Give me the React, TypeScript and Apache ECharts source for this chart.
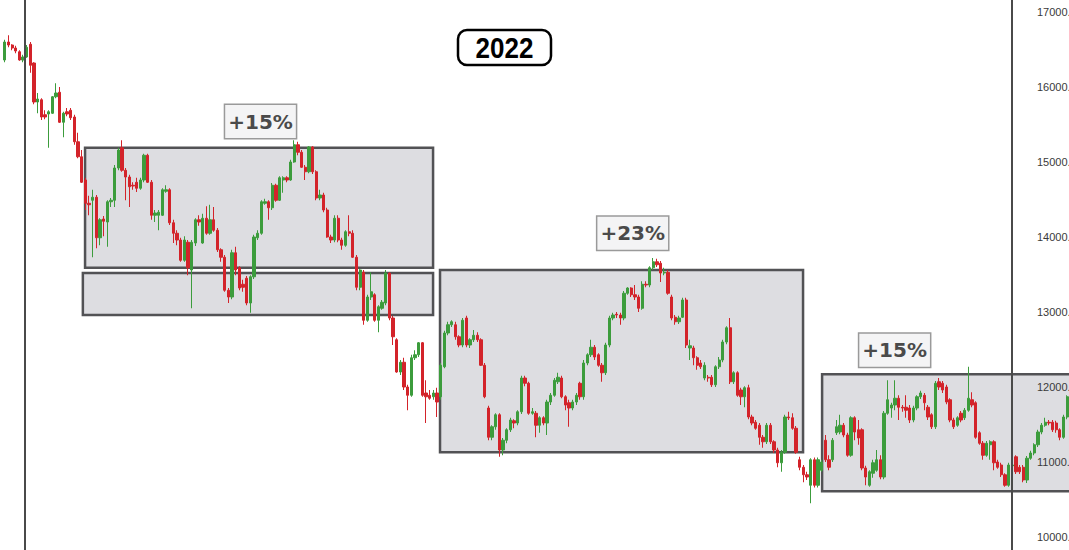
import React, { useEffect, useRef } from 'react';
import * as echarts from 'echarts';

// OHLC rows: [open, close, low, high]
const lateDecToJan = [
  [16360,16600,16330,16630],[16600,16560,16530,16690],[16560,16520,16490,16570],[16520,16480,16450,16550],
  [16470,16360,16350,16490],[16360,16400,16330,16430],[16400,16530,16390,16560],[16570,16290,16190,16600],
  [16320,15800,15770,16330],[15800,15840,15650,15920],[15830,15600,15560,15850],[15630,15600,15570,15690],
  [15640,15670,15190,15690],[15650,15870,15640,15880],[15870,15920,15850,16050],[15930,15530,15520,16000],
  [15530,15650,15330,15670],[15670,15640,15610,15720],[15690,15590,15560,15720],[15600,15270,15230,15630],
  [15270,15070,15050,15390],[15070,14730,14720,15160],[14760,14450,14360,14790],[14450,14430,14290,14550],
  [14490,14530,13730,14630],[14530,13990,13850,14560],[13990,14230,13890,14250],[14240,14210,14010,14280],
  [14200,14470,13870,14490],[14470,14490,14400,14520],[14490,14920,14400,14960],[14920,15160,14890,15190],
  [15190,14890,14870,15290],[14890,14800,14490,14920],[14800,14670,14400,14830],[14690,14680,14630,14730],
  [14730,14650,14600,14790],[14650,14760,14630,14790],[14760,15090,14730,15110],[15090,14730,14720,15110],
  [14730,14290,14230,14760],[14290,14320,14200,14360],[14290,14330,14090,14360],[14290,14630,14280,14650],
  [14610,14630,14590,14690],[14630,14190,14160,14650],[14190,14050,13920,14230],[14050,13960,13890,14090],
  [13960,13690,13670,13990],[13690,13960,13670,14010],
];
const springSwing = [
  [13930,13590,13490,13960],[13560,13930,13050,13960],[13920,14230,13880,14250],[14230,14200,14150,14290],
  [13920,14250,13910,14310],[14250,14050,14030,14410],[14050,14230,14030,14430],[14230,14090,14070,14400],
  [14090,13830,13800,14120],[13830,13730,13670,13850],[13730,13290,13270,13760],[13290,13200,13120,13320],
  [13200,13790,13170,13830],[13790,13560,13490,13870],[13590,13320,13290,13610],[13370,13330,13270,13430],
  [13450,13120,13090,13480],[13120,13470,12990,13490],[13470,14000,13440,14030],[13990,14050,13960,14090],
  [14050,14470,14030,14490],[14450,14470,14430,14510],[14470,14390,14230,14490],[14390,14690,14360,14720],
  [14690,14490,14470,14710],[14490,14790,14480,14810],[14760,14790,14590,14810],[14790,14760,14730,14810],
  [14760,15000,14750,15030],[15000,15230,14990,15290],[15230,15130,15090,15270],[15130,14930,14920,15160],
  [14930,14870,14760,14960],[14870,15200,14850,15210],[15200,14870,14840,15210],[14870,14520,14490,14890],
  [14520,14560,14490,14630],[14560,14360,14330,14590],[14360,14000,13990,14390],[14000,13960,13920,14030],
  [13960,14250,13930,14290],[14250,13960,13930,14290],[13960,13890,13830,13990],[13890,14070,13870,14090],
  [14070,14050,14010,14290],[14050,13730,13720,14090],[13730,13330,13290,13760],[13330,13560,13290,13570],
  [13530,12890,12830,13560],[12890,13200,12870,13230],
];
const mayJuneSlide = [
  [13200,13270,13160,13530],[13230,12890,12870,13250],[12890,13070,12730,13090],[13050,13130,13030,13160],
  [13120,13520,13090,13560],[13520,12920,12890,13530],[12920,12670,12560,12950],[12630,12200,12190,12650],
  [12200,12330,12160,12360],[12330,12000,11960,12390],[12000,11890,11690,12030],[11890,12390,11870,12430],
  [12390,12430,12360,12490],[12430,12590,12400,12600],[12590,11890,11870,12600],[11920,11870,11520,12090],
  [11890,11850,11830,11960],[11870,11920,11830,11960],[11920,11800,11600,11990],[11870,12290,11830,12320],
  [12270,12720,12250,12750],[12720,12830,12690,12870],[12830,12870,12800,12890],[12830,12670,12630,12870],
  [12670,12560,12530,12690],[12560,12890,12530,12920],[12920,12560,12530,12950],[12560,12630,12520,12650],
  [12630,12690,12600,12760],[12690,12630,12600,12730],[12630,12290,12280,12650],[12290,11870,11850,12320],
  [11720,11330,11290,11750],[11330,11470,11290,11490],[11470,11630,11430,11650],[11630,11160,11070,11650],
  [11160,11290,11090,11320],[11290,11430,11250,11450],[11430,11560,11400,11590],[11550,11520,11450,11570],
  [11520,11670,11490,11690],[11670,12120,11640,12150],[12120,12050,12010,12150],[12050,11650,11630,12070],
  [11650,11670,11630,11720],[11650,11490,11330,11680],[11490,11590,11390,11610],[11590,11520,11490,11610],
  [11520,11800,11360,11830],[11800,11890,11760,11920],
];
const summerRally = [
  [11890,12090,11870,12120],[12070,12130,12040,12190],[12120,11870,11850,12150],[11870,11760,11690,11890],
  [11790,11720,11470,11830],[11720,11800,11690,11830],[11800,11890,11760,11920],[12050,11870,11830,12070],
  [11870,12320,11830,12360],[12320,12430,12290,12450],[12430,12530,12400,12630],[12530,12400,12360,12560],
  [12430,12290,12270,12450],[12290,12190,12070,12320],[12190,12560,12160,12590],[12560,12920,12530,12950],
  [12920,12960,12890,12990],[12970,12960,12920,13000],[12960,12920,12830,12990],[12920,13250,12890,13280],
  [13250,13320,13230,13330],[13320,13230,13200,13330],[13230,13200,13160,13360],[13200,13050,13000,13230],
  [13050,13370,13030,13410],[13370,13360,13330,13410],[13360,13590,13330,13610],[13590,13670,13560,13720],
  [13670,13630,13600,13710],[13650,13520,13400,13680],[13520,13530,13490,13590],[13530,13250,13230,13560],
  [13200,12920,12890,13230],[12930,12870,12830,12960],[12870,12920,12840,12950],[12930,13160,12920,13190],
  [13160,12560,12520,13190],[12520,12550,12360,12630],[12520,12390,12290,12550],[12390,12290,12230,12410],
  [12320,12270,12240,12360],[12120,12290,12090,12330],[12130,12120,12070,12160],[12130,12030,12000,12160],
  [12030,12270,12000,12290],[12270,12360,12240,12400],[12360,12600,12330,12630],[12600,12790,12570,12810],
  [12790,12070,12040,12920],[12070,12190,12040,12210],
];
const autumnLows = [
  [12190,11890,11870,12210],[11960,11870,11760,11990],[11870,11990,11730,12010],[11990,11600,11570,12030],
  [11600,11520,11490,11630],[11530,11450,11430,11560],[11490,11330,11230,11520],[11330,11270,11190,11360],
  [11270,11490,11240,11520],[11490,11270,11240,11520],[11270,11160,11120,11290],[11160,10990,10930,11190],
  [10990,11130,10870,11160],[11130,11600,11110,11630],[11600,11590,11560,11670],[11590,11450,11430,11650],
  [11450,11130,11110,11480],[11030,10930,10890,11070],[10930,10830,10730,10960],[10830,10800,10760,10870],
  [10690,11030,10450,11050],[11030,10690,10660,11060],[10690,11030,10660,11060],[10890,11000,10870,11030],
  [11290,11030,11000,11360],[11030,10930,10890,11090],[11030,11290,11000,11320],[11390,11470,11360,11560],
  [11400,11490,11370,11630],[11490,11360,11330,11520],[11360,11090,11070,11390],[11090,11590,11070,11610],
  [11590,11400,11290,11610],[11430,11320,11230,11560],[11430,10920,10890,11450],[10920,10800,10690,10950],
  [10690,10870,10670,10890],[10850,10990,10790,11030],[10890,11030,10870,11160],[11030,10800,10770,11090],
  [10800,11650,10770,11680],[11650,11830,11630,12090],[11720,11760,11590,11790],[11760,11850,11690,12090],
  [11850,11730,11560,11890],[11730,11720,11670,11760],[11730,11690,11590,11890],[11720,11560,11520,11760],
  [11560,11720,11530,11750],[11720,11870,11690,11890],
];
const yearEnd = [
  [11870,11920,11840,11950],[11890,11790,11690,11920],[11730,11600,11560,11760],[11630,11470,11440,11650],
  [11470,12050,11440,12080],[12070,12000,11960,12120],[12050,11960,11920,12080],[12000,11800,11770,12030],
  [11830,11560,11530,11850],[11560,11470,11440,11590],[11490,11590,11470,11610],[11650,11560,11530,11680],
  [11590,11690,11560,11720],[11690,11850,11670,12270],[11830,11760,11730,11930],[11790,11330,11310,11810],
  [11390,11250,11230,11410],[11250,11090,11030,11280],[11090,11250,11070,11280],[11230,11270,11030,11290],
  [11270,10990,10890,11290],[11000,10930,10910,11030],[10960,10830,10800,10990],[10830,10690,10670,10850],
  [10690,10960,10670,10990],[10950,10960,10890,10990],[11070,10870,10840,11090],[10930,10870,10840,10960],
  [10930,10760,10730,10960],[10760,11050,10720,11080],[11050,11120,11030,11150],[11120,11230,11090,11250],
  [11230,11400,11200,11430],[11400,11490,11370,11520],[11490,11530,11470,11590],[11530,11520,11490,11560],
  [11530,11430,11400,11560],[11520,11430,11390,11550],[11430,11330,11290,11450],[11330,11600,11310,11630],
  [11600,11870,11570,11890],
];

const candles = [...lateDecToJan, ...springSwing, ...mayJuneSlide, ...summerRally, ...autumnLows, ...yearEnd];

const yTicks = [10000, 11000, 12000, 13000, 14000, 15000, 16000, 17000];

// range boxes in data space: candle index span and price span
const zoneFrom = [21.9, 21.3, 118.8, 223.1];
const zoneTo = [116.9, 116.9, 217.9, 300];
const zoneTop = [15190, 13520, 13560, 12170];
const zoneBottom = [13590, 12960, 11130, 10610];

const gainText = ['+15%', '+23%', '+15%'];
const gainAt = [69.8, 171.4, 242.9];
const gainPrice = [15540, 14050, 12490];

const yearLines = [5.4, 275];
const yearTitle = '2022';

const GREEN = '#3c9c3c';
const RED = '#d3232a';

export default function App() {
  const ref = useRef<HTMLDivElement>(null);
  useEffect(() => {
    if (!ref.current) return;
    const chart = echarts.init(ref.current, null, { renderer: 'svg' });
    const n = candles.length;
    const band = 1066 / n;
    const extra = 2;
    const gridRight = -extra * band;
    const axisX = 1069 - gridRight;
    chart.setOption({
      animation: false,
      backgroundColor: '#ffffff',
      grid: { left: 3, right: gridRight, top: 0, bottom: 0, containLabel: false, outerBoundsMode: 'none' },
      xAxis: { type: 'value', min: -0.5, max: n - 0.5 + extra, show: false },
      yAxis: {
        type: 'value',
        position: 'right',
        z: 20,
        min: 9826.67,
        max: 17160,
        offset: -(axisX - 1035),
        axisLine: { show: false },
        axisTick: { show: false },
        splitLine: { show: false },
        axisLabel: {
          customValues: yTicks,
          formatter: (v: number) => v.toFixed(2),
          margin: 2,
          color: '#3a3a3a',
          fontSize: 11,
          fontFamily: '"Liberation Sans", Arial, sans-serif',
        },
      },
      series: [
        {
          type: 'line',
          data: [],
          z: 1,
          silent: true,
          markArea: {
            silent: true,
            itemStyle: { color: '#dddde1', borderColor: '#525255', borderWidth: 2.5 },
            data: zoneFrom.map((f, i) => [
              { coord: [f, zoneTop[i]] },
              { coord: [zoneTo[i], zoneBottom[i]] },
            ]),
          },
        },
        {
          type: 'candlestick',
          z: 2,
          silent: true,
          data: candles.map((c, i) => [i, c[0], c[1], c[2], c[3]]),
          encode: { x: 0, y: [1, 2, 3, 4] },
          barWidth: 2.8,
          itemStyle: {
            color: GREEN,
            color0: RED,
            borderColor: GREEN,
            borderColor0: RED,
            borderWidth: 1,
          },
        },
        {
          type: 'line',
          data: [],
          z: 3,
          silent: true,
          markLine: {
            silent: true,
            symbol: ['none', 'none'],
            label: { show: false },
            lineStyle: { color: '#4a4a4a', width: 2, type: 'solid' },
            data: yearLines.map((x) => ({ xAxis: x })),
          },
          markPoint: {
            silent: true,
            symbol: 'rect',
            symbolSize: 1,
            itemStyle: { color: 'rgba(0,0,0,0)' },
            label: {
              show: true,
              position: 'inside',
              formatter: '{b}',
              fontFamily: '"DejaVu Sans", sans-serif',
              fontWeight: 'bold',
              fontSize: 20,
              lineHeight: 22,
              color: '#4a4a4a',
              backgroundColor: '#f4f4f5',
              borderColor: '#9a9a9a',
              borderWidth: 1.5,
              padding: [6, 3, 5, 3],
            },
            data: gainText.map((t, i) => ({ name: t, coord: [gainAt[i], gainPrice[i]] })),
          },
        },
      ],
      graphic: [
        {
          type: 'group',
          z: 100,
          children: [
            {
              type: 'rect',
              shape: { x: 458, y: 30, width: 93, height: 35, r: 9 },
              style: { fill: '#ffffff', stroke: '#000000', lineWidth: 2.5 },
            },
            {
              type: 'text',
              x: 504.5,
              y: 48,
              scaleY: 1.12,
              style: {
                text: yearTitle,
                fill: '#000000',
                fontSize: 26,
                fontWeight: 'bold',
                fontFamily: '"Liberation Sans", Arial, sans-serif',
                align: 'center',
                verticalAlign: 'middle',
                textAlign: 'center',
                textVerticalAlign: 'middle',
              },
            },
          ],
        },
      ],
    });
    return () => chart.dispose();
  }, []);
  return <div ref={ref} style={{ position: 'fixed', left: 0, top: 0, width: 1069, height: 550 }} />;
}
